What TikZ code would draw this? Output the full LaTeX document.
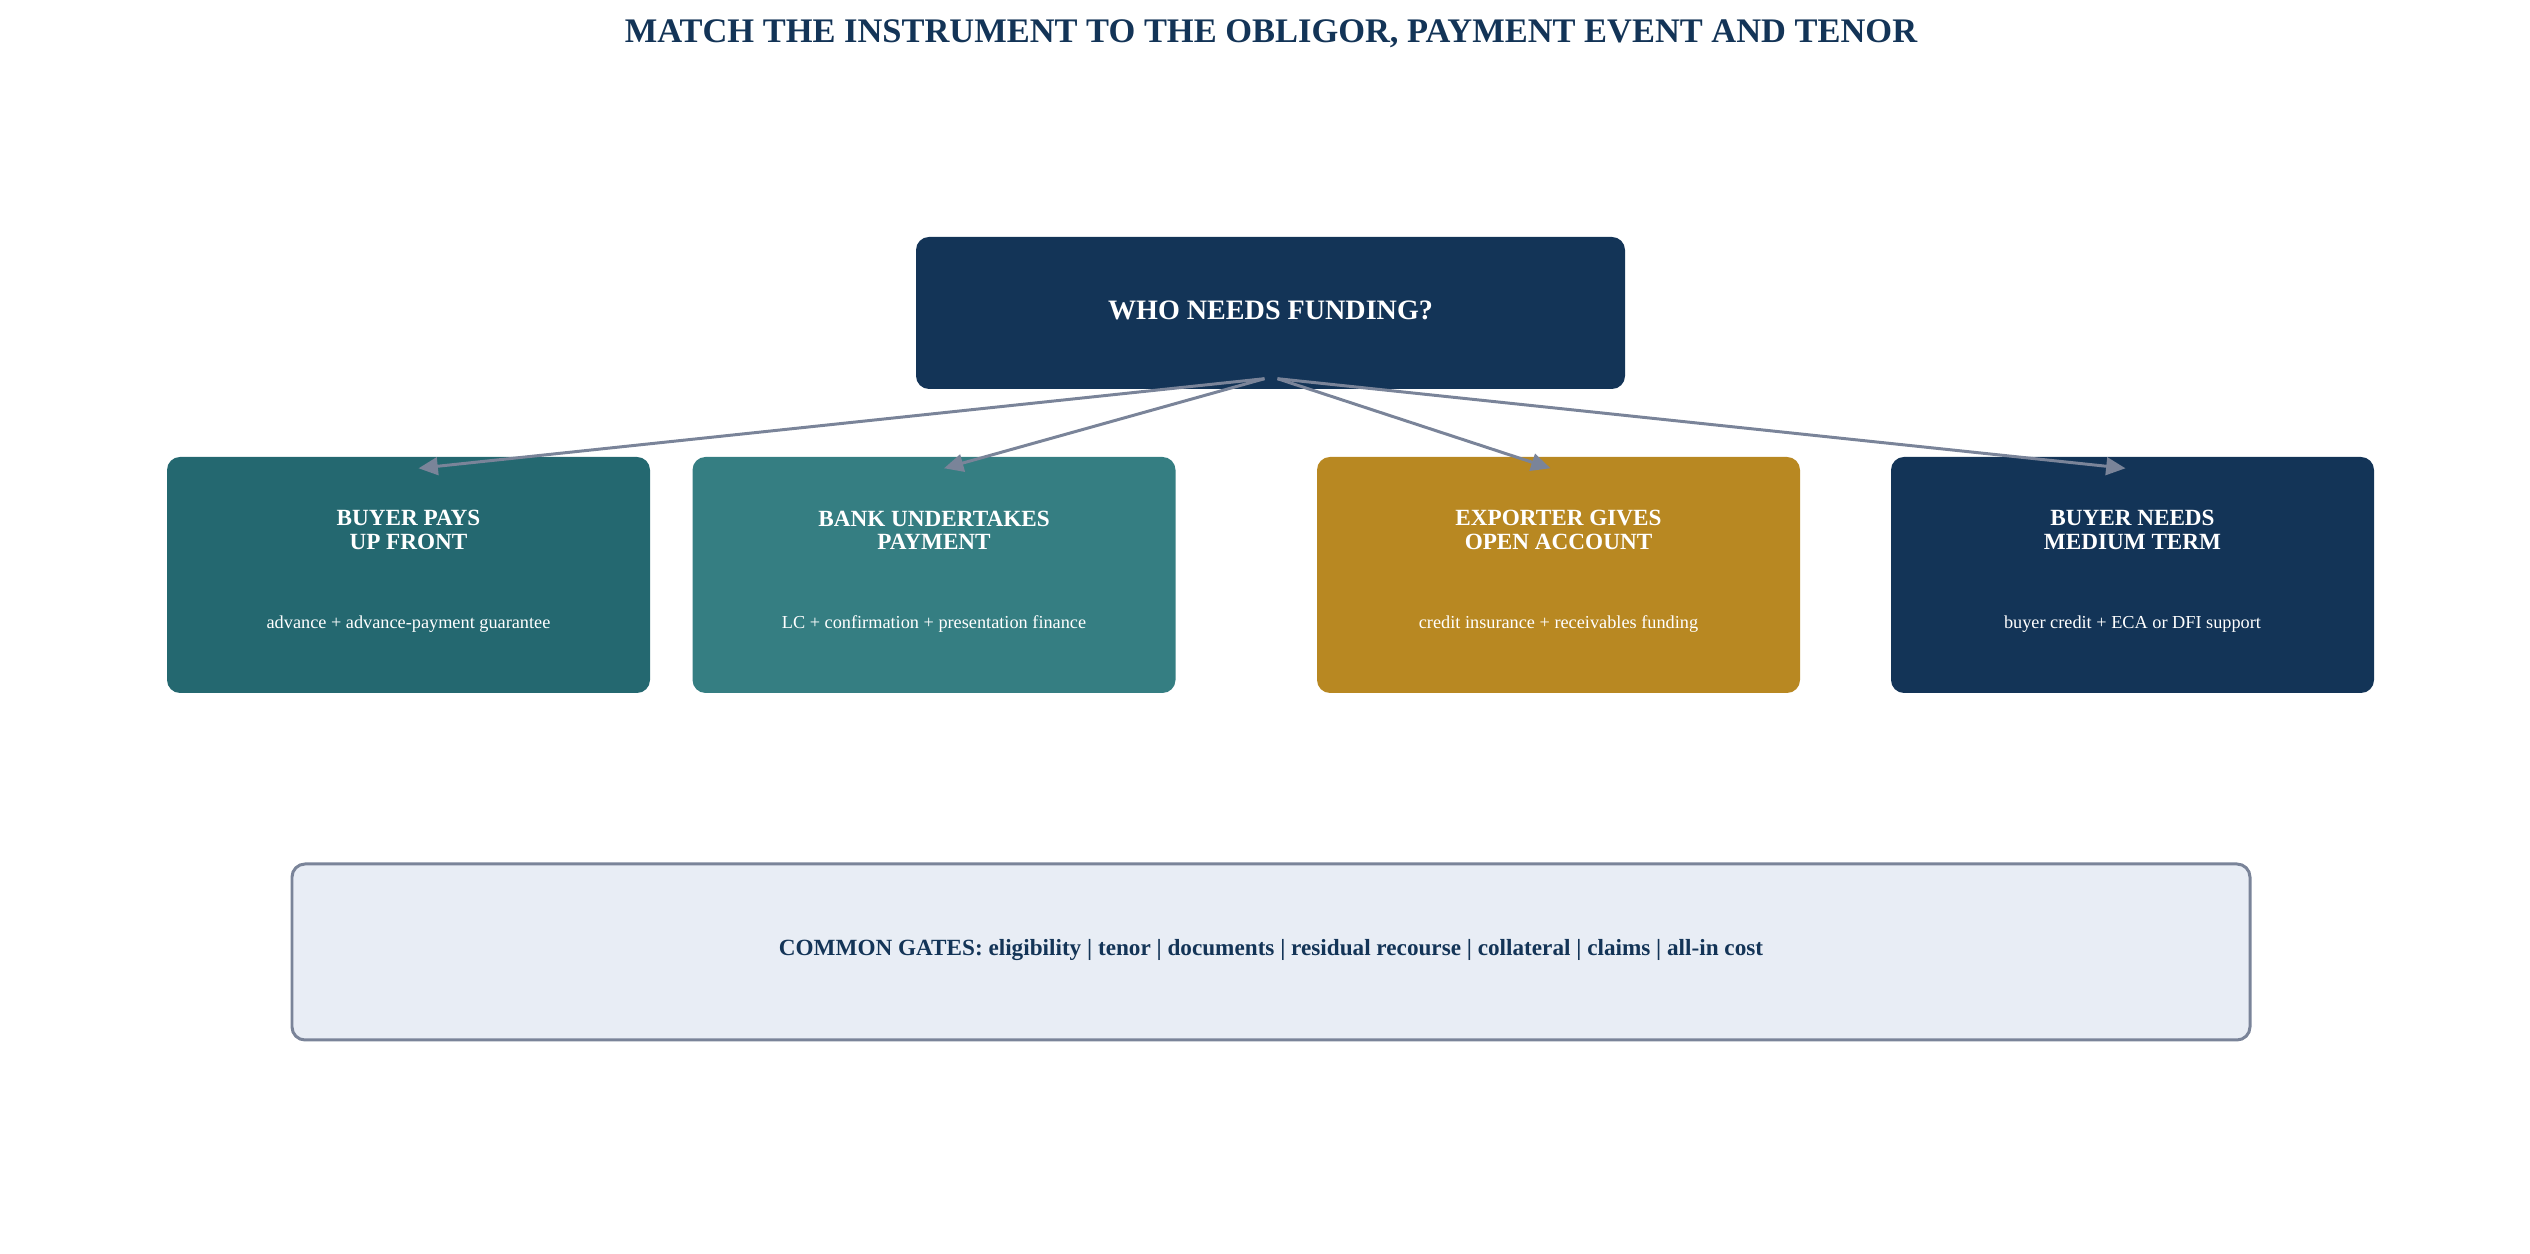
\documentclass[tikz,border=0pt]{standalone}
\usepackage{fontspec}
\setmainfont{Liberation Serif}
\usetikzlibrary{arrows.meta}

\definecolor{marino}{RGB}{19,52,87}
\definecolor{verde}{RGB}{36,104,112}
\definecolor{verdeclaro}{RGB}{53,126,130}
\definecolor{oro}{RGB}{184,136,34}
\definecolor{fondo}{RGB}{232,237,245}
\definecolor{gris}{RGB}{122,132,153}

\tikzstyle{caja}= [rectangle,rounded corners=0.13cm,minimum width=4.83cm,minimum height=2.36cm,inner sep=0pt]
\tikzstyle{titulo}= [white,align=center,font=\fontsize{6.6pt}{6.6pt}\selectfont\bfseries]
\tikzstyle{detalle}= [white,font=\fontsize{5.2pt}{6.2pt}\selectfont]
\tikzstyle{flecha}= [gris,line width=0.85pt,-{Triangle[length=5.5pt,width=5pt]}]

\begin{document}
\begin{tikzpicture}
		\useasboundingbox (0,0) rectangle (25.3,-12.54);

		\node (t) at (12.71,-0.34) {\color{marino}{\fontsize{9.8pt}{11.5pt}\selectfont\bfseries MATCH THE INSTRUMENT TO THE OBLIGOR, PAYMENT EVENT AND TENOR}};

		\node (q) at (12.705,-3.13) [caja,fill=marino,minimum width=7.09cm,minimum height=1.52cm] {};
		\node (qt) at (12.705,-3.10) [titulo,font=\fontsize{8pt}{9pt}\selectfont\bfseries] {WHO NEEDS FUNDING?};

		\node (a) at (4.085,-5.75) [caja,fill=verde] {};
		\node (at) at (4.085,-5.30) [titulo] {BUYER PAYS\\UP FRONT};
		\node (ad) at (4.085,-6.24) [detalle] {advance + advance-payment guarantee};

		\node (b) at (9.34,-5.75) [caja,fill=verdeclaro] {};
		\node (bt) at (9.34,-5.30) [titulo] {BANK UNDERTAKES\\PAYMENT};
		\node (bd) at (9.34,-6.24) [detalle] {LC + confirmation + presentation finance};

		\node (c) at (15.585,-5.75) [caja,fill=oro] {};
		\node (ct) at (15.585,-5.30) [titulo] {EXPORTER GIVES\\OPEN ACCOUNT};
		\node (cd) at (15.585,-6.24) [detalle] {credit insurance + receivables funding};

		\node (d) at (21.325,-5.75) [caja,fill=marino] {};
		\node (dt) at (21.325,-5.30) [titulo] {BUYER NEEDS\\MEDIUM TERM};
		\node (dd) at (21.325,-6.24) [detalle] {buyer credit + ECA or DFI support};

		\node (g) at (12.71,-9.52) [caja,fill=fondo,draw=gris,line width=0.85pt,minimum width=19.58cm,minimum height=1.76cm] {};
		\node (gt) at (12.71,-9.50) {\color{marino}{\fontsize{6.6pt}{7.8pt}\selectfont\bfseries COMMON GATES: eligibility | tenor | documents | residual recourse | collateral | claims | all-in cost}};

		\draw[flecha] ([xshift=-0.06cm,yshift=0.11cm]q.south) -- ([xshift=0.1cm,yshift=-0.12cm]a.north);
		\draw[flecha] ([xshift=-0.06cm,yshift=0.11cm]q.south) -- ([xshift=0.1cm,yshift=-0.12cm]b.north);
		\draw[flecha] ([xshift=0.07cm,yshift=0.11cm]q.south) -- ([xshift=-0.08cm,yshift=-0.12cm]c.north);
		\draw[flecha] ([xshift=0.07cm,yshift=0.11cm]q.south) -- ([xshift=-0.07cm,yshift=-0.12cm]d.north);

\end{tikzpicture}
\end{document}
